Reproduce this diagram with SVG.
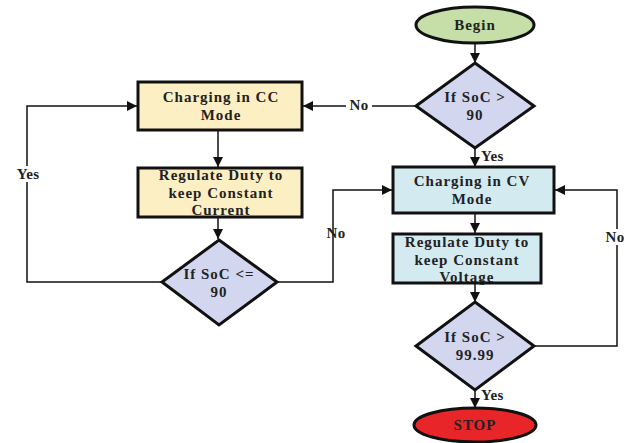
<svg xmlns="http://www.w3.org/2000/svg" width="628" height="443" viewBox="0 0 628 443">
<defs>
<marker id="ah" viewBox="0 0 10 10" refX="10" refY="5" markerWidth="10" markerHeight="10" markerUnits="userSpaceOnUse" orient="auto">
<path d="M0,0 L10,5 L0,10 z" fill="#111"/>
</marker>
<style>
.t{font-family:"Liberation Serif","Times New Roman",serif;font-weight:bold;font-size:15px;fill:#222;text-anchor:middle;letter-spacing:1px}
.l{font-family:"Liberation Serif","Times New Roman",serif;font-weight:bold;font-size:15px;fill:#222;letter-spacing:0.3px}
.n{stroke:#111;stroke-width:3}
.c{fill:none;stroke:#111;stroke-width:1.5}
</style>
</defs>
<rect width="628" height="443" fill="#fff"/>
<g id="connectors">
<path class="c" d="M475,43 V63" marker-end="url(#ah)"/>
<path class="c" d="M475,148 V167" marker-end="url(#ah)"/>
<path class="c" d="M416,106 H303" marker-end="url(#ah)"/>
<path class="c" d="M218,130 V167" marker-end="url(#ah)"/>
<path class="c" d="M218,217 V239" marker-end="url(#ah)"/>
<path class="c" d="M162,282 H27 V106 H137" marker-end="url(#ah)"/>
<path class="c" d="M277,282 H333 V190 H392" marker-end="url(#ah)"/>
<path class="c" d="M475,213 V233" marker-end="url(#ah)"/>
<path class="c" d="M475,283 V302" marker-end="url(#ah)"/>
<path class="c" d="M534,346 H617 V190 H555" marker-end="url(#ah)"/>
<path class="c" d="M475,390 V408" marker-end="url(#ah)"/>
<rect x="346" y="97" width="26" height="16" fill="#fff"/>
<text class="l" x="359" y="110" text-anchor="middle">No</text>
<text class="l" x="481" y="161">Yes</text>
<rect x="11" y="166" width="34" height="16" fill="#fff"/>
<text class="l" x="28" y="179" text-anchor="middle">Yes</text>
<text class="l" x="336" y="238" text-anchor="middle">No</text>
<rect x="603" y="229" width="26" height="16" fill="#fff"/>
<text class="l" x="615" y="242" text-anchor="middle">No</text>
<text class="l" x="481" y="400">Yes</text>
</g>
<g id="begin">
<ellipse class="n" cx="475" cy="25" rx="59" ry="18" fill="#c6dea8"/>
<text class="t" x="475" y="30">Begin</text>
</g>
<g id="decision1">
<polygon class="n" points="475,63 534,106 475,148 416,106" fill="#d2d7ef"/>
<text class="t" x="475" y="102">If SoC &gt;</text>
<text class="t" x="475" y="120">90</text>
</g>
<g id="cc-mode">
<rect class="n" x="138" y="82" width="164" height="48" fill="#fdefc4"/>
<text class="t" x="221" y="102">Charging in CC</text>
<text class="t" x="221" y="119.5">Mode</text>
</g>
<g id="cc-regulate">
<rect class="n" x="138" y="168" width="164" height="49" fill="#fdefc4"/>
<text class="t" x="221" y="180">Regulate Duty to</text>
<text class="t" x="221" y="197.5">keep Constant</text>
<text class="t" x="221" y="215">Current</text>
</g>
<g id="decision2">
<polygon class="n" points="219,240 277,282 219,325 162,282" fill="#d2d7ef"/>
<text class="t" x="219" y="279">If SoC &lt;=</text>
<text class="t" x="219" y="297">90</text>
</g>
<g id="cv-mode">
<rect class="n" x="393" y="167" width="161" height="46" fill="#d4eaf1"/>
<text class="t" x="472" y="186">Charging in CV</text>
<text class="t" x="472" y="203.5">Mode</text>
</g>
<g id="cv-regulate">
<rect class="n" x="393" y="234" width="148" height="49" fill="#d4eaf1"/>
<text class="t" x="467" y="247">Regulate Duty to</text>
<text class="t" x="467" y="264.5">keep Constant</text>
<text class="t" x="467" y="282">Voltage</text>
</g>
<g id="decision3">
<polygon class="n" points="475,302 534,346 475,390 416,346" fill="#d2d7ef"/>
<text class="t" x="475" y="342">If SoC &gt;</text>
<text class="t" x="475" y="360">99.99</text>
</g>
<g id="stop">
<ellipse class="n" cx="475" cy="425" rx="61" ry="17" fill="#e8262a"/>
<text class="t" x="475" y="430">STOP</text>
</g>
</svg>
